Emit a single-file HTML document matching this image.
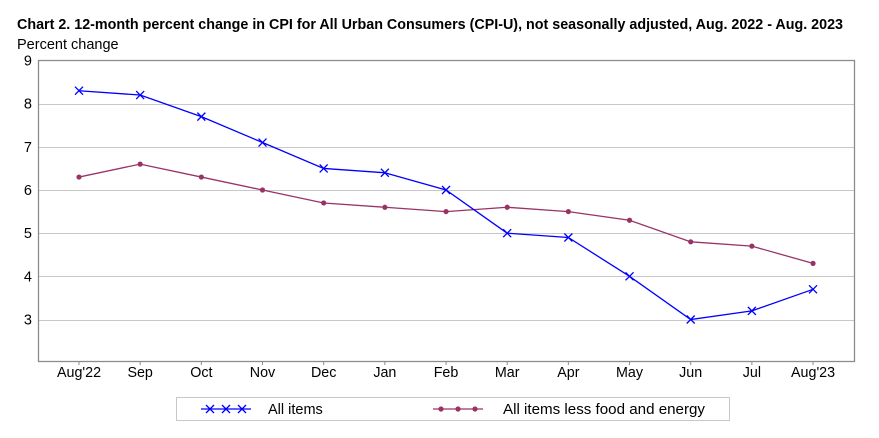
<!DOCTYPE html>
<html><head><meta charset="utf-8"><style>
body{margin:0;background:#fff;}
svg{display:block;font-family:"Liberation Sans",Arial,sans-serif;}
</style></head><body>
<svg id="s" width="879" height="438" viewBox="0 0 879 438" xmlns="http://www.w3.org/2000/svg">
<text x="17" y="29" font-size="14.5" font-weight="bold" fill="#000" textLength="826" lengthAdjust="spacingAndGlyphs">Chart 2. 12-month percent change in CPI for All Urban Consumers (CPI-U), not seasonally adjusted, Aug. 2022 - Aug. 2023</text>
<text x="17" y="49" font-size="14.5" fill="#000">Percent change</text>
<g id="grid" stroke="#c8c8c8" stroke-width="1"></g>
<rect x="38.5" y="60.5" width="816" height="301" fill="none" stroke="#8c8c8c" stroke-width="1.3"/>
<g id="ylab" font-size="14.5" text-anchor="end" fill="#000"></g>
<g id="xlab" font-size="14.3" text-anchor="middle" fill="#000"></g>
<g id="series"></g>
<rect x="176.5" y="397.5" width="553" height="23" fill="#fff" stroke="#c8c8c8"/>
<line x1="201" y1="409" x2="251" y2="409" stroke="#0000ff" stroke-width="1.3"/>
<g stroke="#0000ff" stroke-width="1.3">
<path d="M206,405l8,8M214,405l-8,8M222,405l8,8M230,405l-8,8M238,405l8,8M246,405l-8,8"/>
</g>
<text x="268" y="414" font-size="14.5" fill="#000">All items</text>
<line x1="433" y1="409" x2="483" y2="409" stroke="#993366" stroke-width="1.3"/>
<circle cx="441" cy="409" r="2.6" fill="#993366"/><circle cx="458" cy="409" r="2.6" fill="#993366"/><circle cx="475" cy="409" r="2.6" fill="#993366"/>
<text x="503" y="414" font-size="14.5" fill="#000" textLength="202" lengthAdjust="spacingAndGlyphs">All items less food and energy</text>
</svg>
<script>
var ns="http://www.w3.org/2000/svg";
function el(t,a,p){var e=document.createElementNS(ns,t);for(var k in a)e.setAttribute(k,a[k]);p.appendChild(e);return e;}
function Y(v){return 60.5+(9-v)*43.17;}
function X(i){return 79+61.17*i;}
var g=document.getElementById('grid'),yl=document.getElementById('ylab'),xl=document.getElementById('xlab'),s=document.getElementById('series');
for(var v=3;v<=8;v++){el('line',{x1:39,x2:854,y1:Math.round(Y(v))+0.5,y2:Math.round(Y(v))+0.5},g);}
for(var v=3;v<=9;v++){var t=el('text',{x:32,y:Y(v)+5},yl);t.textContent=v;}
var m=["Aug'22","Sep","Oct","Nov","Dec","Jan","Feb","Mar","Apr","May","Jun","Jul","Aug'23"];
for(var i=0;i<13;i++){el('line',{x1:X(i),x2:X(i),y1:361,y2:365,stroke:'#8c8c8c'},g);var t=el('text',{x:X(i),y:377},xl);t.textContent=m[i];}
var a=[8.3,8.2,7.7,7.1,6.5,6.4,6.0,5.0,4.9,4.0,3.0,3.2,3.7];
var c=[6.3,6.6,6.3,6.0,5.7,5.6,5.5,5.6,5.5,5.3,4.8,4.7,4.3];
var pa=a.map(function(v,i){return X(i)+','+Y(v)}).join(' ');
var pc=c.map(function(v,i){return X(i)+','+Y(v)}).join(' ');
el('polyline',{points:pc,fill:'none',stroke:'#993366','stroke-width':1.3},s);
c.forEach(function(v,i){el('circle',{cx:X(i),cy:Y(v),r:2.6,fill:'#993366'},s);});
el('polyline',{points:pa,fill:'none',stroke:'#0000ff','stroke-width':1.3},s);
a.forEach(function(v,i){var x=X(i),y=Y(v);el('path',{d:'M'+(x-4)+','+(y-4)+'l8,8M'+(x+4)+','+(y-4)+'l-8,8',stroke:'#0000ff','stroke-width':1.3},s);});
</script>
</body></html>
